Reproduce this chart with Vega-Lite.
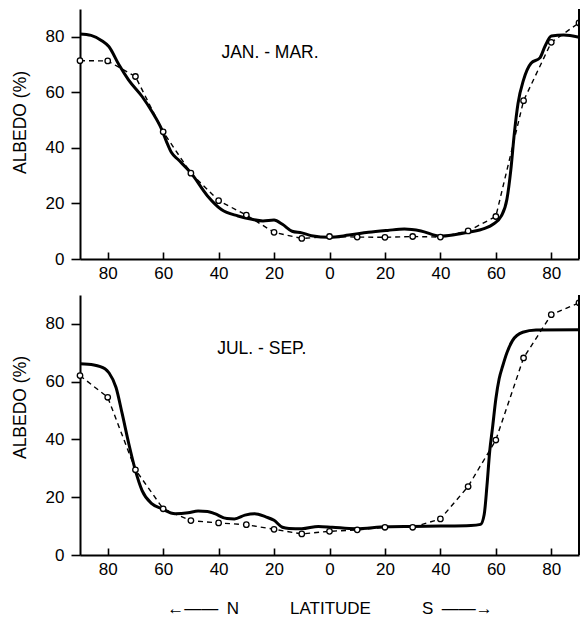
{
  "$schema": "https://vega.github.io/schema/vega-lite/v6.json",
  "background": "white",
  "padding": {"left": 11, "top": 8, "right": 2, "bottom": 0},
  "config": {
    "font": "Liberation Sans",
    "view": {"stroke": null},
    "axis": {
      "grid": false,
      "domainColor": "black",
      "domainWidth": 2,
      "tickColor": "black",
      "tickWidth": 1.6,
      "labelColor": "black",
      "titleColor": "black",
      "labelFont": "Liberation Sans",
      "titleFont": "Liberation Sans",
      "labelFontSize": 17,
      "titleFontSize": 17.5,
      "titleFontWeight": "normal"
    }
  },
  "datasets": {
    "jan": [
      {"series": "solid", "lat": -90, "albedo": 81},
      {"series": "solid", "lat": -86, "albedo": 80.5},
      {"series": "solid", "lat": -82, "albedo": 78.5},
      {"series": "solid", "lat": -79.6, "albedo": 76.5},
      {"series": "solid", "lat": -76, "albedo": 70},
      {"series": "solid", "lat": -72.5, "albedo": 64.5},
      {"series": "solid", "lat": -67.6, "albedo": 58.5},
      {"series": "solid", "lat": -64, "albedo": 53},
      {"series": "solid", "lat": -60.5, "albedo": 46.6},
      {"series": "solid", "lat": -58.7, "albedo": 42},
      {"series": "solid", "lat": -57, "albedo": 38.3},
      {"series": "solid", "lat": -54.6, "albedo": 35.8},
      {"series": "solid", "lat": -50, "albedo": 31},
      {"series": "solid", "lat": -44, "albedo": 22.7},
      {"series": "solid", "lat": -39, "albedo": 17.8},
      {"series": "solid", "lat": -33, "albedo": 15.5},
      {"series": "solid", "lat": -28, "albedo": 14.3},
      {"series": "solid", "lat": -24, "albedo": 13.7},
      {"series": "solid", "lat": -20, "albedo": 14},
      {"series": "solid", "lat": -17, "albedo": 12.5},
      {"series": "solid", "lat": -13.5, "albedo": 10},
      {"series": "solid", "lat": -10, "albedo": 9.4},
      {"series": "solid", "lat": -6.5, "albedo": 8.4},
      {"series": "solid", "lat": 0, "albedo": 7.8},
      {"series": "solid", "lat": 7, "albedo": 8.6},
      {"series": "solid", "lat": 14, "albedo": 9.6},
      {"series": "solid", "lat": 21, "albedo": 10.3},
      {"series": "solid", "lat": 27, "albedo": 10.8},
      {"series": "solid", "lat": 33, "albedo": 10.1},
      {"series": "solid", "lat": 40, "albedo": 8.2},
      {"series": "solid", "lat": 45, "albedo": 8.7},
      {"series": "solid", "lat": 50, "albedo": 9.6},
      {"series": "solid", "lat": 56, "albedo": 11},
      {"series": "solid", "lat": 59, "albedo": 12.5},
      {"series": "solid", "lat": 62, "albedo": 15.5},
      {"series": "solid", "lat": 64, "albedo": 21.5},
      {"series": "solid", "lat": 65.4, "albedo": 32},
      {"series": "solid", "lat": 66.7, "albedo": 45.5},
      {"series": "solid", "lat": 68, "albedo": 56},
      {"series": "solid", "lat": 70, "albedo": 64.5},
      {"series": "solid", "lat": 72.7, "albedo": 70.5},
      {"series": "solid", "lat": 75.9, "albedo": 72.4},
      {"series": "solid", "lat": 77.7, "albedo": 76.5},
      {"series": "solid", "lat": 80, "albedo": 80.3},
      {"series": "solid", "lat": 84.5, "albedo": 80.6},
      {"series": "solid", "lat": 90, "albedo": 79.8},
      {"series": "dashed", "lat": -90, "albedo": 71.4},
      {"series": "dashed", "lat": -80, "albedo": 71.3},
      {"series": "dashed", "lat": -70, "albedo": 65.7},
      {"series": "dashed", "lat": -60, "albedo": 45.8},
      {"series": "dashed", "lat": -50, "albedo": 30.9},
      {"series": "dashed", "lat": -40, "albedo": 21},
      {"series": "dashed", "lat": -30, "albedo": 15.8},
      {"series": "dashed", "lat": -20, "albedo": 9.6},
      {"series": "dashed", "lat": -10, "albedo": 7.4},
      {"series": "dashed", "lat": 0, "albedo": 8.1},
      {"series": "dashed", "lat": 10, "albedo": 7.9},
      {"series": "dashed", "lat": 20, "albedo": 7.8},
      {"series": "dashed", "lat": 30, "albedo": 8.1},
      {"series": "dashed", "lat": 40, "albedo": 7.9},
      {"series": "dashed", "lat": 50, "albedo": 10.1},
      {"series": "dashed", "lat": 60, "albedo": 15.3},
      {"series": "dashed", "lat": 70, "albedo": 57},
      {"series": "dashed", "lat": 80, "albedo": 78},
      {"series": "dashed", "lat": 90, "albedo": 85}
    ],
    "jul": [
      {"series": "solid", "lat": -90, "albedo": 66.2},
      {"series": "solid", "lat": -85, "albedo": 65.8},
      {"series": "solid", "lat": -81, "albedo": 64.5},
      {"series": "solid", "lat": -79.5, "albedo": 63},
      {"series": "solid", "lat": -77, "albedo": 58},
      {"series": "solid", "lat": -74.8, "albedo": 49},
      {"series": "solid", "lat": -72.4, "albedo": 38.5},
      {"series": "solid", "lat": -70, "albedo": 29.2},
      {"series": "solid", "lat": -67.6, "albedo": 22.3},
      {"series": "solid", "lat": -64, "albedo": 17.7},
      {"series": "solid", "lat": -60.5, "albedo": 16},
      {"series": "solid", "lat": -55.7, "albedo": 14.3},
      {"series": "solid", "lat": -51, "albedo": 14.6},
      {"series": "solid", "lat": -47.4, "albedo": 15.2},
      {"series": "solid", "lat": -44, "albedo": 15.1},
      {"series": "solid", "lat": -41.4, "albedo": 14.3},
      {"series": "solid", "lat": -37, "albedo": 12.6},
      {"series": "solid", "lat": -34.3, "albedo": 12.5},
      {"series": "solid", "lat": -30.5, "albedo": 13.8},
      {"series": "solid", "lat": -27, "albedo": 14.3},
      {"series": "solid", "lat": -23, "albedo": 13.2},
      {"series": "solid", "lat": -20, "albedo": 12},
      {"series": "solid", "lat": -17, "albedo": 9.6},
      {"series": "solid", "lat": -14.6, "albedo": 9.2},
      {"series": "solid", "lat": -10, "albedo": 9.1},
      {"series": "solid", "lat": -4, "albedo": 9.9},
      {"series": "solid", "lat": 1, "albedo": 9.6},
      {"series": "solid", "lat": 9.5, "albedo": 9.1},
      {"series": "solid", "lat": 20.6, "albedo": 9.8},
      {"series": "solid", "lat": 30, "albedo": 9.9},
      {"series": "solid", "lat": 40, "albedo": 10},
      {"series": "solid", "lat": 51, "albedo": 10.2},
      {"series": "solid", "lat": 54.5, "albedo": 10.6},
      {"series": "solid", "lat": 55.8, "albedo": 14},
      {"series": "solid", "lat": 56.8, "albedo": 24},
      {"series": "solid", "lat": 57.8, "albedo": 36},
      {"series": "solid", "lat": 58.8, "albedo": 44},
      {"series": "solid", "lat": 60, "albedo": 54},
      {"series": "solid", "lat": 61.2, "albedo": 61},
      {"series": "solid", "lat": 62.5, "albedo": 65.5},
      {"series": "solid", "lat": 64, "albedo": 70},
      {"series": "solid", "lat": 66, "albedo": 74.2},
      {"series": "solid", "lat": 69.7, "albedo": 77.1},
      {"series": "solid", "lat": 74.5, "albedo": 77.9},
      {"series": "solid", "lat": 90, "albedo": 78},
      {"series": "dashed", "lat": -90, "albedo": 62.1},
      {"series": "dashed", "lat": -80, "albedo": 54.6},
      {"series": "dashed", "lat": -70, "albedo": 29.5},
      {"series": "dashed", "lat": -60, "albedo": 16},
      {"series": "dashed", "lat": -50, "albedo": 11.9},
      {"series": "dashed", "lat": -40, "albedo": 11.1},
      {"series": "dashed", "lat": -30, "albedo": 10.5},
      {"series": "dashed", "lat": -20, "albedo": 8.9},
      {"series": "dashed", "lat": -10, "albedo": 7.3},
      {"series": "dashed", "lat": 0, "albedo": 8.2},
      {"series": "dashed", "lat": 10, "albedo": 8.7},
      {"series": "dashed", "lat": 20, "albedo": 9.6},
      {"series": "dashed", "lat": 30, "albedo": 9.6},
      {"series": "dashed", "lat": 40, "albedo": 12.5},
      {"series": "dashed", "lat": 50, "albedo": 23.7},
      {"series": "dashed", "lat": 60, "albedo": 39.8},
      {"series": "dashed", "lat": 70, "albedo": 68.2},
      {"series": "dashed", "lat": 80, "albedo": 83.2},
      {"series": "dashed", "lat": 90, "albedo": 87.3}
    ]
  },
  "spacing": 13,
  "vconcat": [
    {
      "width": 499,
      "height": 250,
      "layer": [
        {
          "data": {"name": "jan"},
          "transform": [{"filter": "datum.series == 'solid'"}],
          "mark": {"type": "line", "interpolate": "monotone", "strokeWidth": 3, "color": "black"},
          "encoding": {
            "x": {"field": "lat", "type": "quantitative", "scale": {"domain": [-90, 90], "nice": false},
              "axis": {"values": [-80, -60, -40, -20, 0, 20, 40, 60, 80], "labelExpr": "abs(datum.value)", "tickSize": -7, "labelPadding": 13, "title": null}},
            "y": {"field": "albedo", "type": "quantitative", "scale": {"domain": [0, 90], "nice": false},
              "axis": {"values": [0, 20, 40, 60, 80], "title": "ALBEDO (%)", "tickSize": 9, "labelPadding": 7, "titlePadding": 16, "titleY": 113}}
          }
        },
        {
          "data": {"name": "jan"},
          "transform": [{"filter": "datum.series == 'dashed'"}],
          "mark": {"type": "line", "strokeWidth": 1.4, "strokeDash": [5, 4], "color": "black"},
          "encoding": {
            "x": {"field": "lat", "type": "quantitative"},
            "y": {"field": "albedo", "type": "quantitative"}
          }
        },
        {
          "data": {"name": "jan"},
          "transform": [{"filter": "datum.series == 'dashed'"}],
          "mark": {"type": "point", "shape": "circle", "filled": false, "fill": "white", "fillOpacity": 1, "stroke": "black", "strokeWidth": 1.3, "size": 30, "opacity": 1},
          "encoding": {
            "x": {"field": "lat", "type": "quantitative"},
            "y": {"field": "albedo", "type": "quantitative"}
          }
        },
        {
          "data": {"values": [{}]},
          "mark": {"type": "rule", "strokeWidth": 2, "color": "black"},
          "encoding": {"x": {"datum": 90, "type": "quantitative"}, "y": {"datum": 0, "type": "quantitative"}, "y2": {"datum": 90}}
        },
        {
          "data": {"values": [{}]},
          "mark": {"type": "text", "align": "left", "baseline": "middle", "fontSize": 17.5, "font": "Liberation Sans", "color": "black"},
          "encoding": {"x": {"datum": -39, "type": "quantitative"}, "y": {"datum": 74, "type": "quantitative"}, "text": {"value": "JAN. - MAR."}}
        }
      ]
    },
    {
      "width": 499,
      "height": 260,
      "layer": [
        {
          "data": {"name": "jul"},
          "transform": [{"filter": "datum.series == 'solid'"}],
          "mark": {"type": "line", "interpolate": "monotone", "strokeWidth": 3, "color": "black"},
          "encoding": {
            "x": {"field": "lat", "type": "quantitative", "scale": {"domain": [-90, 90], "nice": false},
              "axis": {"values": [-80, -60, -40, -20, 0, 20, 40, 60, 80], "labelExpr": "abs(datum.value)", "tickSize": -7, "labelPadding": 13, "titlePadding": 23, "titleFontSize": 17,
                "title": "←——\u2002N\u2003\u2003\u2003LATITUDE\u2003\u2003\u2003S\u2002——→"}},
            "y": {"field": "albedo", "type": "quantitative", "scale": {"domain": [0, 90], "nice": false},
              "axis": {"values": [0, 20, 40, 60, 80], "title": "ALBEDO (%)", "tickSize": 9, "labelPadding": 7, "titlePadding": 16, "titleY": 112}}
          }
        },
        {
          "data": {"name": "jul"},
          "transform": [{"filter": "datum.series == 'dashed'"}],
          "mark": {"type": "line", "strokeWidth": 1.4, "strokeDash": [5, 4], "color": "black"},
          "encoding": {
            "x": {"field": "lat", "type": "quantitative"},
            "y": {"field": "albedo", "type": "quantitative"}
          }
        },
        {
          "data": {"name": "jul"},
          "transform": [{"filter": "datum.series == 'dashed'"}],
          "mark": {"type": "point", "shape": "circle", "filled": false, "fill": "white", "fillOpacity": 1, "stroke": "black", "strokeWidth": 1.3, "size": 30, "opacity": 1},
          "encoding": {
            "x": {"field": "lat", "type": "quantitative"},
            "y": {"field": "albedo", "type": "quantitative"}
          }
        },
        {
          "data": {"values": [{}]},
          "mark": {"type": "rule", "strokeWidth": 2, "color": "black"},
          "encoding": {"x": {"datum": 90, "type": "quantitative"}, "y": {"datum": 0, "type": "quantitative"}, "y2": {"datum": 90}}
        },
        {
          "data": {"values": [{}]},
          "mark": {"type": "text", "align": "left", "baseline": "middle", "fontSize": 17.5, "font": "Liberation Sans", "color": "black"},
          "encoding": {"x": {"datum": -40.5, "type": "quantitative"}, "y": {"datum": 71.4, "type": "quantitative"}, "text": {"value": "JUL. - SEP."}}
        }
      ]
    }
  ]
}
